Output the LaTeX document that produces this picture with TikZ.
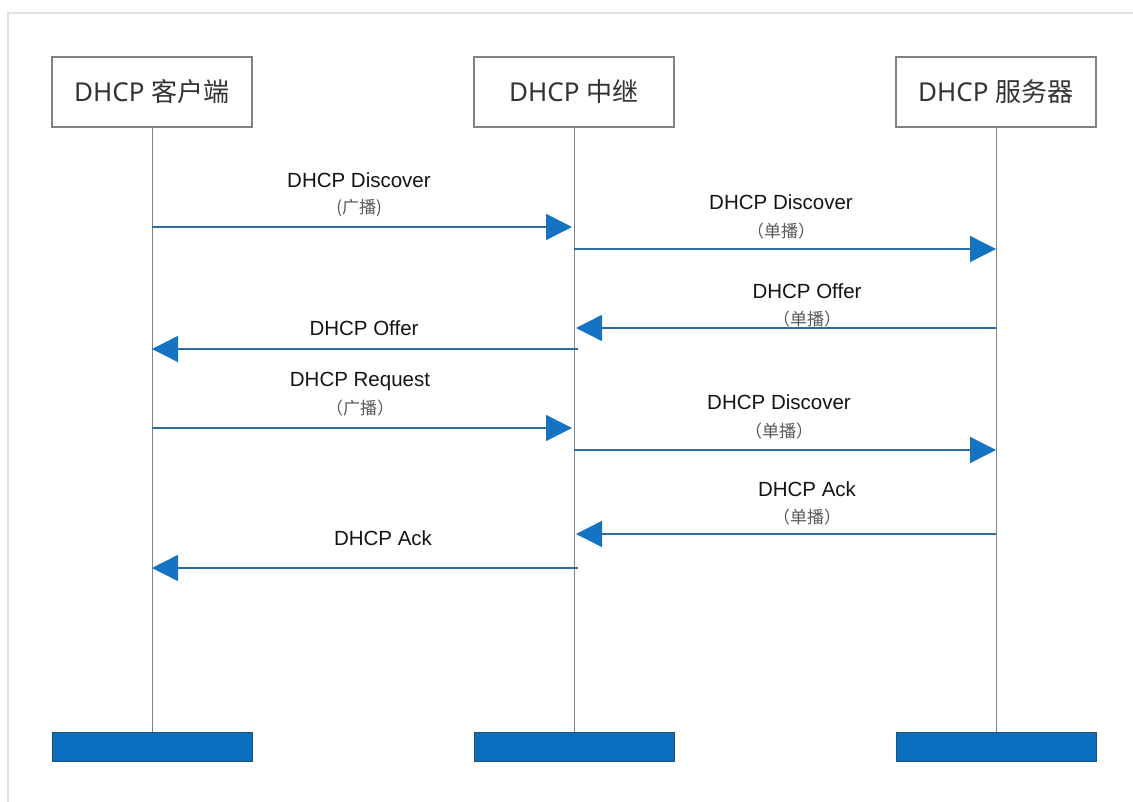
\documentclass[tikz,border=0pt]{standalone}
\usepackage{fontspec}
\setmainfont{Liberation Sans}
\newfontfamily\cjk{Noto Sans CJK SC}
\newfontfamily\boxlat{Noto Sans}
\usetikzlibrary{arrows.meta}
\definecolor{lineblue}{RGB}{45,110,160}
\definecolor{tipblue}{RGB}{20,115,195}
\definecolor{barblue}{RGB}{10,110,190}
\definecolor{bardark}{RGB}{40,80,110}
\definecolor{lifegray}{RGB}{130,130,130}
\definecolor{framegray}{RGB}{225,225,225}
\newcommand{\actortext}[1]{{\boxlat DHCP} {\cjk #1}}
\tikzset{
  actor/.style={draw=lifegray, line width=1.2pt, fill=white, minimum width=200pt, minimum height=70pt, inner sep=0pt, font=\fontsize{26}{30}\selectfont, text=black!80},
  endbar/.style={draw=bardark, line width=0.8pt, fill=barblue, minimum width=200pt, minimum height=29pt, inner sep=0pt},
  lifeline/.style={draw=lifegray, line width=1pt},
  msg/.style={draw=lineblue, line width=1.4pt, -{Triangle[length=26pt,width=26pt,color=tipblue,fill=tipblue]}},
  lbl/.style={font=\fontsize{20.5}{24}\selectfont, text=black!92, inner sep=0pt},
  sub/.style={font=\cjk\fontsize{17}{20}\selectfont, text=black!65, inner sep=0pt}
}
\begin{document}
\begin{tikzpicture}[x=1pt,y=-1pt]
\useasboundingbox (0,0) rectangle (1133,802);
\fill[white] (0,0) rectangle (1133,802);
\draw[framegray, line width=1.5pt] (8,802) -- (8,13) -- (1133,13);

\node[actor] (c) at (152,92) {\actortext{客户端}};
\node[actor] (r) at (574,92) {\actortext{中继}};
\node[actor] (s) at (996,92) {\actortext{服务器}};

\node[endbar] (cb) at (152,747) {};
\node[endbar] (rb) at (574,747) {};
\node[endbar] (sb) at (996,747) {};

\draw[lifeline] (c.south) -- (cb.north);
\draw[lifeline] (r.south) -- (rb.north);
\draw[lifeline] (s.south) -- (sb.north);

% 1
\draw[msg] (c.south |- 0,227) -- ([xshift=-2pt]r.south |- 0,227);
\node[lbl] (l1) at (359,180) {DHCP Discover};
\node[sub] (l1b) at (359,208) {(广播)};
% 2
\draw[msg] (r.south |- 0,249) -- (s.south |- 0,249);
\node[lbl] (l2) at (781,202) {DHCP Discover};
\node[sub] (l2b) at (781,231) {（单播）};
% 3
\draw[msg] (s.south |- 0,328) -- ([xshift=2pt]r.south |- 0,328);
\node[lbl] (l3) at (807,291) {DHCP Offer};
\node[sub] (l3b) at (807,319) {（单播）};
% 4
\draw[msg] ([xshift=4pt]r.south |- 0,349) -- (c.south |- 0,349);
\node[lbl] (l4) at (364,328) {DHCP Offer};
% 5
\draw[msg] (c.south |- 0,428) -- ([xshift=-2pt]r.south |- 0,428);
\node[lbl] (l5) at (360,381) {DHCP Request};
\node[sub] (l5b) at (360,408) {（广播）};
% 6
\draw[msg] (r.south |- 0,450) -- (s.south |- 0,450);
\node[lbl] (l6) at (779,402) {DHCP Discover};
\node[sub] (l6b) at (779,431) {（单播）};
% 7
\draw[msg] (s.south |- 0,534) -- ([xshift=2pt]r.south |- 0,534);
\node[lbl] (l7) at (807,489) {DHCP Ack};
\node[sub] (l7b) at (807,517) {（单播）};
% 8
\draw[msg] ([xshift=4pt]r.south |- 0,568) -- (c.south |- 0,568);
\node[lbl] (l8) at (383,538) {DHCP Ack};
\end{tikzpicture}
\end{document}
